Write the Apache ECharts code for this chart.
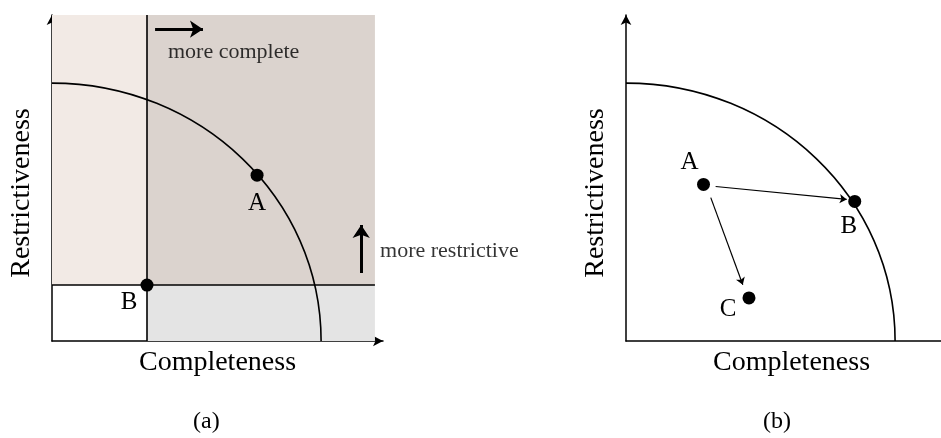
<!DOCTYPE html>
<html><head><meta charset="utf-8">
<script src="https://cdn.jsdelivr.net/npm/echarts@6/dist/echarts.min.js"></script>
<style>html,body{margin:0;padding:0;background:#fff}#c{width:941px;height:438px}</style>
</head><body><div id="c"></div>
<script>
// ---- data (axis units: frontier intercept = 1) ----
const axisMaxX = 1.23;
const axisMaxY = 1.264;
const frontierRadius = [1, 1];
// panel (a)
const shadeMaxX = 1.2;
const cutoffA = [0.353, 0.217];
const pointNamesA = ['A', 'B'];
const pointValuesA = [[0.762, 0.643], [0.353, 0.217]];
const arrowMoreComplete = [[0.383, 1.209], [0.561, 1.209]];
const arrowMoreRestrictive = [[1.149, 0.264], [1.149, 0.450]];
const textMoreComplete = [0.431, 1.12];
const textMoreRestrictive = [1.219, 0.349];
// panel (b)
const pointNamesB = ['A', 'B', 'C'];
const pointValuesB = [[0.288, 0.607], [0.850, 0.541], [0.457, 0.167]];
const arrowsB = [
  [[0.333, 0.599], [0.820, 0.549]],
  [[0.315, 0.556], [0.434, 0.218]]
];
const xTitle = 'Completeness';
const yTitle = 'Restrictiveness';
const captions = ['(a)', '(b)'];

// ---- styles ----
const FONT = '"Liberation Serif", "Times New Roman", serif';
const labelOffsetsA = [[0, 28], [-18, 17]];
const labelOffsetsB = [[-14, -22], [-6, 25], [-21, 12]];

function axisX(idx) {
  return {
    gridIndex: idx, type: 'value', min: 0, max: axisMaxX,
    name: xTitle, nameLocation: 'middle', nameGap: 8,
    nameTextStyle: { fontFamily: FONT, fontSize: 28, color: '#000' },
    axisLine: { show: true, symbol: ['none', 'arrow'], symbolSize: [8, 10], lineStyle: { color: '#000', width: 1.5 } },
    axisTick: { show: false }, axisLabel: { show: false }, splitLine: { show: false }
  };
}
function axisY(idx) {
  return {
    gridIndex: idx, type: 'value', min: 0, max: axisMaxY,
    name: yTitle, nameLocation: 'middle', nameGap: 16, nameRotate: 90,
    nameTextStyle: { fontFamily: FONT, fontSize: 28, color: '#000', padding: [0, 30, 0, 0] },
    axisLine: { show: true, symbol: ['none', 'arrow'], symbolSize: [8, 10], lineStyle: { color: '#000', width: 1.5 } },
    axisTick: { show: false }, axisLabel: { show: false }, splitLine: { show: false }
  };
}
function frontier(idx) {
  return {
    type: 'custom', xAxisIndex: idx, yAxisIndex: idx, z: 3, silent: true,
    data: [frontierRadius],
    renderItem: function (params, api) {
      const rx = api.value(0), ry = api.value(1), k = 0.5523;
      const p0 = api.coord([0, ry]), c1 = api.coord([k * rx, ry]);
      const c2 = api.coord([rx, k * ry]), p3 = api.coord([rx, 0]);
      return {
        type: 'bezierCurve',
        shape: { x1: p0[0], y1: p0[1], cpx1: c1[0], cpy1: c1[1], cpx2: c2[0], cpy2: c2[1], x2: p3[0], y2: p3[1] },
        style: { stroke: '#000', fill: null, lineWidth: 1.6 }
      };
    }
  };
}
function points(idx, names, values, offsets) {
  return {
    type: 'scatter', xAxisIndex: idx, yAxisIndex: idx, z: 5, symbolSize: 13,
    itemStyle: { color: '#000', opacity: 1 },
    data: values.map((v, i) => ({
      name: names[i], value: v,
      label: { show: true, formatter: '{b}', position: 'inside', offset: offsets[i],
        fontFamily: FONT, fontSize: 25, color: '#000' }
    }))
  };
}
function textMark(idx, pos, txt) {
  return {
    type: 'scatter', xAxisIndex: idx, yAxisIndex: idx, symbolSize: 0, z: 6, clip: false,
    data: [{ value: pos, name: txt }],
    label: { show: true, formatter: '{b}', position: 'right', distance: 0,
      fontFamily: FONT, fontSize: 22, color: '#000' }
  };
}

const option = {
  animation: false,
  backgroundColor: '#fff',
  grid: [
    { left: 52, top: 15, width: 331, height: 326, outerBoundsMode: 'none' },
    { left: 626, top: 15, width: 331, height: 326, outerBoundsMode: 'none' }
  ],
  xAxis: [axisX(0), axisX(1)],
  yAxis: [axisY(0), axisY(1)],
  graphic: [
    { type: 'text', left: 193, top: 410, style: { text: captions[0], font: '24px ' + FONT, fill: '#000' } },
    { type: 'text', left: 763, top: 410, style: { text: captions[1], font: '24px ' + FONT, fill: '#000' } }
  ],
  series: [
    {
      type: 'line', xAxisIndex: 0, yAxisIndex: 0, z: 0, data: [], silent: true,
      markArea: {
        silent: true,
        data: [
          [{ coord: [0, cutoffA[1]], itemStyle: { color: '#f2eae5' } }, { coord: [cutoffA[0], axisMaxY] }],
          [{ coord: [cutoffA[0], cutoffA[1]], itemStyle: { color: '#dbd3ce' } }, { coord: [shadeMaxX, axisMaxY] }],
          [{ coord: [cutoffA[0], 0], itemStyle: { color: '#e4e4e4' } }, { coord: [shadeMaxX, cutoffA[1]] }]
        ]
      }
    },
    {
      type: 'lines', coordinateSystem: 'cartesian2d', xAxisIndex: 0, yAxisIndex: 0, z: 2, silent: true,
      symbol: ['none', 'none'],
      lineStyle: { color: '#000', width: 1.6, opacity: 1 },
      data: [
        { coords: [[cutoffA[0], 0], [cutoffA[0], axisMaxY]] },
        { coords: [[0, cutoffA[1]], [shadeMaxX, cutoffA[1]]] }
      ]
    },
    frontier(0),
    {
      type: 'lines', coordinateSystem: 'cartesian2d', xAxisIndex: 0, yAxisIndex: 0, z: 4, silent: true,
      symbol: ['none', 'arrow'], symbolSize: 13,
      lineStyle: { color: '#000', width: 3, opacity: 1 },
      data: [{ coords: arrowMoreComplete }, { coords: arrowMoreRestrictive }]
    },
    points(0, pointNamesA, pointValuesA, labelOffsetsA),
    textMark(0, textMoreComplete, 'more complete'),
    textMark(0, textMoreRestrictive, 'more restrictive'),
    frontier(1),
    {
      type: 'lines', coordinateSystem: 'cartesian2d', xAxisIndex: 1, yAxisIndex: 1, z: 4, silent: true,
      symbol: ['none', 'arrow'], symbolSize: 7,
      lineStyle: { color: '#000', width: 1.2, opacity: 1 },
      data: arrowsB.map(c => ({ coords: c }))
    },
    points(1, pointNamesB, pointValuesB, labelOffsetsB)
  ]
};
const chart = echarts.init(document.getElementById('c'), null, { renderer: 'canvas' });
chart.setOption(option);
</script>
</body></html>
